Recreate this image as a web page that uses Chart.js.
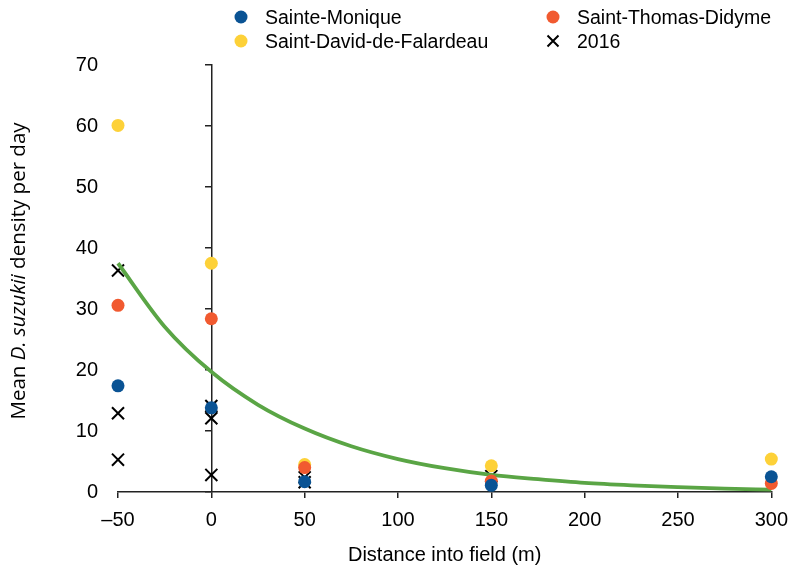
<!DOCTYPE html>
<html>
<head>
<meta charset="utf-8">
<script src="https://cdn.jsdelivr.net/npm/chart.js@4.4.1/dist/chart.umd.min.js"></script>
<style>
  body { margin: 0; background: #fff; }
  #wrap { position: relative; width: 798px; height: 570px; }
  #legend { position: absolute; left: 0; top: 0; width: 798px; height: 60px;
    font-family: "Liberation Sans", Arial, sans-serif; font-size: 19.5px; color: #000; }
  .item { position: absolute; height: 22px; line-height: 22px; white-space: nowrap; }
  .mark { position: absolute; left: -31px; top: 4px; width: 14px; height: 14px; }
</style>
</head>
<body>
<div id="wrap">
  <canvas id="grafica" width="798" height="570"></canvas>
  <div id="legend"></div>
</div>
<script>
// data
const distancias = [-50, 0, 50, 150, 300];
const sainteMonique = [17.4, 13.8, 1.7, 1.1, 2.5];
const saintDavid = [60.1, 37.5, 4.5, 4.3, 5.4];
const saintThomas = [30.6, 28.4, 4.0, 1.8, 1.4];
const x2016 = [-50, -50, -50, 0, 0, 0, 50, 50, 150];
const y2016 = [36.3, 12.9, 5.3, 14.1, 12.1, 2.8, 2.4, 1.6, 2.6];
const curvaX = [-50, -25, 0, 25, 50, 75, 100, 125, 150, 175, 200, 225, 250, 275, 300];
const curvaY = [37.5, 27.1, 19.7, 14.3, 10.4, 7.5, 5.4, 3.9, 2.8, 2.1, 1.5, 1.1, 0.8, 0.55, 0.4];
const yTicks = [0, 10, 20, 30, 40, 50, 60, 70];
const xTicks = [-50, 0, 50, 100, 150, 200, 250, 300];

const AZUL = "#0a5394", AMARILLO = "#fdd138", ROJO = "#f15a30", VERDE = "#5aa545";
const FONT = "'Liberation Sans', Arial, sans-serif";

const pares = (xs, ys) => xs.map((x, i) => ({x: x, y: ys[i]}));

// y axis title with italic species name
const tituloY = {
  id: "tituloY",
  afterDraw(chart) {
    const ctx = chart.ctx;
    const partes = [["Mean ", "normal"], ["D. suzukii", "italic"], [" density per day", "normal"]];
    const fuente = st => st + " 20.5px 'Open Sans', sans-serif";
    let total = 0;
    partes.forEach(p => { ctx.font = fuente(p[1]); total += ctx.measureText(p[0]).width; });
    ctx.save();
    ctx.translate(25, 271);
    ctx.rotate(-Math.PI / 2);
    ctx.fillStyle = "#000";
    ctx.textBaseline = "alphabetic";
    let x = -total / 2;
    partes.forEach(p => {
      ctx.font = fuente(p[1]);
      ctx.fillText(p[0], x, 0);
      x += ctx.measureText(p[0]).width;
    });
    ctx.restore();
  }
};

window.onload = () => {
  const ctx = document.getElementById('grafica').getContext('2d');
  const chart = new Chart(ctx, {
    type: 'scatter',
    data: {
      datasets: [
        { label: "Sainte-Monique", data: pares(distancias, sainteMonique), backgroundColor: AZUL,
          pointRadius: 6.5, pointBorderWidth: 0, order: 1, clip: false },
        { label: "Saint-David-de-Falardeau", data: pares(distancias, saintDavid), backgroundColor: AMARILLO,
          pointRadius: 6.5, pointBorderWidth: 0, order: 3, clip: false },
        { label: "Saint-Thomas-Didyme", data: pares(distancias, saintThomas), backgroundColor: ROJO,
          pointRadius: 6.5, pointBorderWidth: 0, order: 2, clip: false },
        { label: "2016", data: pares(x2016, y2016), pointStyle: "crossRot", borderColor: "#000",
          pointRadius: 8.5, pointBorderWidth: 2, order: 5, clip: false },
        { label: "fit", type: "line", data: pares(curvaX, curvaY), borderColor: VERDE, borderWidth: 3.8,
          pointRadius: 0, cubicInterpolationMode: "monotone", fill: false, order: 4, clip: false }
      ]
    },
    options: {
      responsive: false,
      animation: false,
      layout: { padding: { top: 65, right: 20, left: 0, bottom: 0 } },
      scales: {
        x: {
          type: 'linear', min: -50, max: 300,
          afterFit: s => { s.height = 78; },
          afterBuildTicks: s => { s.ticks = xTicks.map(v => ({value: v})); },
          border: { display: true, color: "#222", width: 1.5 },
          grid: { display: true, drawOnChartArea: false, drawTicks: true, tickLength: 6, color: "#222", lineWidth: 1.5 },
          ticks: { padding: 10, color: "#000", font: { family: FONT, size: 20 },
            callback: v => v < 0 ? "\u2013" + Math.abs(v) : String(v) },
          title: { display: true, text: "Distance into field (m)", color: "#000",
            font: { family: FONT, size: 20 }, padding: { top: 0, bottom: 3 } }
        },
        y: {
          type: 'linear', min: 0, max: 70,
          afterFit: s => { s.width = 118; },
          afterBuildTicks: s => { s.ticks = yTicks.map(v => ({value: v})); },
          border: { display: false },
          grid: { display: false },
          ticks: { padding: 12, color: "#000", font: { family: FONT, size: 20 } }
        },
        y2: {
          type: 'linear', min: 0, max: 70, position: { x: 0 },
          afterBuildTicks: s => { s.ticks = yTicks.map(v => ({value: v})); },
          border: { display: true, color: "#222", width: 1.5 },
          grid: { display: true, drawOnChartArea: false, drawTicks: true, tickLength: 6, color: "#222", lineWidth: 1.5 },
          ticks: { display: false }
        }
      },
      plugins: {
        legend: { display: false },
        tooltip: { enabled: false }
      }
    },
    plugins: [tituloY]
  });

  // two-column legend, filled column by column
  const posiciones = [[265, 6], [265, 30], [577, 6], [577, 30]];
  const caja = document.getElementById('legend');
  chart.data.datasets.slice(0, 4).forEach((ds, i) => {
    const d = document.createElement('div');
    d.className = 'item';
    d.style.left = posiciones[i][0] + 'px';
    d.style.top = posiciones[i][1] + 'px';
    let marca;
    if (ds.pointStyle === 'crossRot') {
      marca = '<svg class="mark" viewBox="0 0 14 14"><path d="M1.5 1.5L12.5 12.5M12.5 1.5L1.5 12.5" stroke="#000" stroke-width="2"/></svg>';
    } else {
      marca = '<svg class="mark" viewBox="0 0 14 14"><circle cx="7" cy="7" r="6.5" fill="' + ds.backgroundColor + '"/></svg>';
    }
    d.innerHTML = marca + ds.label;
    caja.appendChild(d);
  });
};
</script>
</body>
</html>
